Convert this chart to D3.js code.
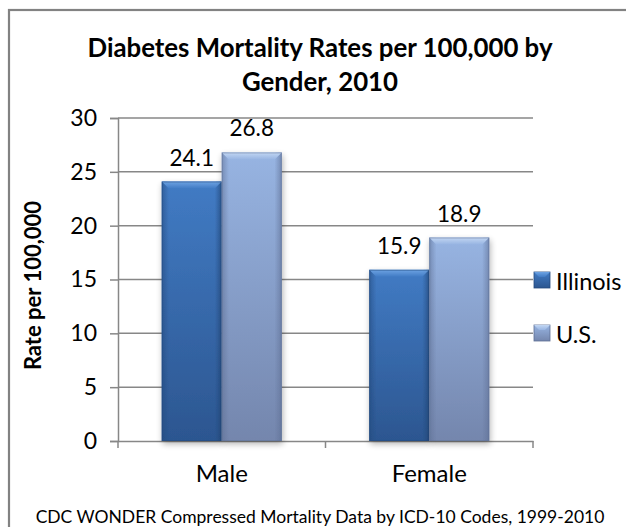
<!DOCTYPE html>
<html lang="en">
<head>
<meta charset="UTF-8" />
<script src="https://d3js.org/d3.v7.min.js"></script>
<title>Diabetes Mortality Rates</title>
<style>
  body { margin: 0; background: #fff; }
  text { font-family: Lato, "Open Sans", sans-serif; fill: #000; }
</style>
</head>
<body>
<script>
// chart data
var categories = ["Male", "Female"];
var seriesNames = ["Illinois", "U.S."];
var illinois = [24.1, 15.9];
var us = [26.8, 18.9];
var yTicks = [0, 5, 10, 15, 20, 25, 30];

var W = 626, H = 527;
var plot = {left: 118, right: 533, top: 118, bottom: 441};

var svg = d3.select("body").append("svg").attr("width", W).attr("height", H);
var defs = svg.append("defs");

// outer frame
svg.append("rect").attr("x", 9).attr("y", 10).attr("width", 640).attr("height", 540)
  .attr("fill", "#fff").attr("stroke", "#828282").attr("stroke-width", 2.2);

var y = d3.scaleLinear().domain([0, 30]).range([plot.bottom, plot.top]);
var x0 = d3.scaleBand().domain(categories).range([plot.left, plot.right]);
var x1 = d3.scaleBand().domain(seriesNames).range([0, x0.bandwidth()]).paddingOuter(0.729);

// colours
var pal = {
  "Illinois": {bevel: "#6da3e3", top: "#417bc4", bot: "#2c5690", edge: "#23497d"},
  "U.S.":     {bevel: "#c3d7f3", top: "#97b4e2", bot: "#7486ad", edge: "#5e6f94"}
};
seriesNames.forEach(function(s, i) {
  var g = defs.append("linearGradient").attr("id", "g" + i).attr("x1", 0).attr("y1", 0).attr("x2", 0).attr("y2", 1);
  g.append("stop").attr("offset", "0%").attr("stop-color", pal[s].top);
  g.append("stop").attr("offset", "100%").attr("stop-color", pal[s].bot);
  var h = defs.append("linearGradient").attr("id", "h" + i).attr("x1", 0).attr("y1", 0).attr("x2", 1).attr("y2", 0);
  h.append("stop").attr("offset", "0%").attr("stop-color", pal[s].edge).attr("stop-opacity", 0.55);
  h.append("stop").attr("offset", "12%").attr("stop-color", pal[s].edge).attr("stop-opacity", 0);
  h.append("stop").attr("offset", "88%").attr("stop-color", pal[s].edge).attr("stop-opacity", 0);
  h.append("stop").attr("offset", "100%").attr("stop-color", pal[s].edge).attr("stop-opacity", 0.6);
  var b = defs.append("linearGradient").attr("id", "b" + i).attr("x1", 0).attr("y1", 0).attr("x2", 0).attr("y2", 1);
  b.append("stop").attr("offset", "0%").attr("stop-color", pal[s].bevel);
  b.append("stop").attr("offset", "100%").attr("stop-color", pal[s].top);
});
var sh = defs.append("filter").attr("id", "shadow").attr("x", "-20%").attr("y", "-10%").attr("width", "140%").attr("height", "130%");
sh.append("feGaussianBlur").attr("in", "SourceAlpha").attr("stdDeviation", 3);
sh.append("feOffset").attr("dx", 1).attr("dy", 3).attr("result", "o");
sh.append("feComponentTransfer").append("feFuncA").attr("type", "linear").attr("slope", 0.3);
var m = sh.append("feMerge");
m.append("feMergeNode");
m.append("feMergeNode").attr("in", "SourceGraphic");

// grid lines
svg.append("g").selectAll("line").data(yTicks.filter(function(d){ return d > 0; })).enter()
  .append("line")
  .attr("x1", plot.left).attr("x2", plot.right)
  .attr("y1", function(d){ return y(d); }).attr("y2", function(d){ return y(d); })
  .attr("stroke", "#878787").attr("stroke-width", 1.5);

// y axis
var yAxis = svg.append("g").attr("transform", "translate(" + plot.left + ",0)")
  .call(d3.axisLeft(y).tickValues(yTicks).tickSize(8).tickPadding(13));
yAxis.select(".domain").attr("stroke", "#878787").attr("stroke-width", 1.5);
yAxis.selectAll(".tick line").attr("stroke", "#878787").attr("stroke-width", 1.5);
yAxis.selectAll(".tick text").attr("font-size", 23).attr("font-family", "Lato, sans-serif").attr("fill", "#000");

// x axis
var xAxis = svg.append("g").attr("transform", "translate(0," + plot.bottom + ")")
  .call(d3.axisBottom(x0).tickSize(0).tickPadding(24));
xAxis.select(".domain").attr("stroke", "#878787").attr("stroke-width", 1.5);
xAxis.selectAll(".tick text").attr("font-size", 24).attr("font-family", "Lato, sans-serif").attr("fill", "#000");
// boundary ticks between categories
var bounds = categories.map(function(c){ return x0(c); }).concat([plot.right]);
xAxis.append("g").selectAll("line").data(bounds).enter().append("line")
  .attr("x1", function(d){ return d; }).attr("x2", function(d){ return d; })
  .attr("y1", 0).attr("y2", 7).attr("stroke", "#878787").attr("stroke-width", 1.5);

// bars
var rows = categories.map(function(c, i) {
  return {cat: c, vals: [illinois[i], us[i]]};
});
var groups = svg.append("g").selectAll("g").data(rows).enter().append("g")
  .attr("transform", function(d){ return "translate(" + x0(d.cat) + ",0)"; });

groups.each(function(row) {
  var g = d3.select(this);
  row.vals.forEach(function(v, i) {
    var s = seriesNames[i];
    var bx = x1(s), bw = x1.bandwidth(), by = y(v), bh = y(0) - y(v);
    var bar = g.append("g").attr("filter", "url(#shadow)");
    bar.append("rect").attr("x", bx).attr("y", by).attr("width", bw).attr("height", bh)
      .attr("fill", "url(#g" + i + ")");
    bar.append("rect").attr("x", bx).attr("y", by).attr("width", bw).attr("height", bh)
      .attr("fill", "url(#h" + i + ")");
    var bv = 7;
    bar.append("path")
      .attr("d", "M" + bx + "," + by + "L" + (bx + bw) + "," + by + "L" + (bx + bw - bv) + "," + (by + bv) +
        "L" + (bx + bv) + "," + (by + bv) + "Z")
      .attr("fill", "url(#b" + i + ")");
    bar.append("rect").attr("x", bx + 0.5).attr("y", by + 0.5).attr("width", bw - 1).attr("height", bh - 1)
      .attr("fill", "none").attr("stroke", pal[s].edge).attr("stroke-opacity", 0.5);
    g.append("text").attr("x", bx + bw / 2).attr("y", by - 16)
      .attr("text-anchor", "middle").attr("font-size", 22.5).text(v.toFixed(1));
  });
});

// title
var title = svg.append("text").attr("x", 320).attr("text-anchor", "middle")
  .attr("font-size", 25.8).attr("font-weight", "bold");
title.append("tspan").attr("x", 320).attr("y", 57).text("Diabetes Mortality Rates per 100,000 by");
title.append("tspan").attr("x", 320).attr("y", 91).text("Gender, 2010");

// y-axis title
svg.append("text").attr("transform", "translate(32," + ((plot.top + plot.bottom) / 2 + 6) + ") rotate(-90)")
  .attr("text-anchor", "middle").attr("dominant-baseline", "central")
  .attr("font-size", 22).attr("font-weight", "bold").text("Rate per 100,000");

// legend
var legend = svg.append("g").selectAll("g").data(seriesNames).enter().append("g")
  .attr("transform", function(d, i){ return "translate(534," + (280 + i * 53) + ")"; });
legend.append("rect").attr("x", 0).attr("y", -8).attr("width", 16).attr("height", 16)
  .attr("fill", function(d, i){ return "url(#g" + i + ")"; })
  .attr("stroke", function(d){ return pal[d].edge; }).attr("stroke-width", 0.8);
legend.append("path").attr("d", "M0,-8L16,-8L11,-3L5,-3Z")
  .attr("fill", function(d, i){ return "url(#b" + i + ")"; });
legend.append("text").attr("x", 22).attr("y", 1).attr("dominant-baseline", "central")
  .attr("font-size", 23.5).text(function(d){ return d; });

// source note
svg.append("text").attr("x", 320).attr("y", 523).attr("text-anchor", "middle")
  .attr("font-size", 17.5).text("CDC WONDER Compressed Mortality Data by ICD-10 Codes, 1999-2010");
</script>
</body>
</html>
